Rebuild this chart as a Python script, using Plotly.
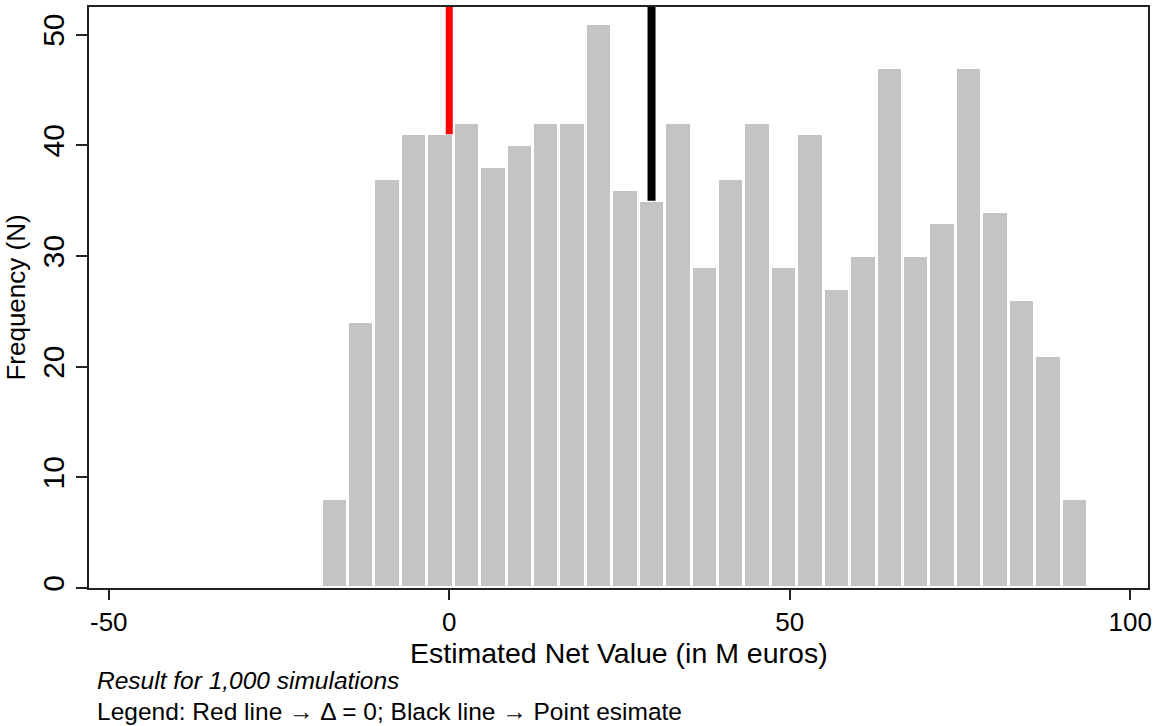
import plotly.graph_objects as go

# Histogram data
bin_start = -18.74
bin_width = 3.88
counts = [8, 24, 37, 41, 41, 42, 38, 40, 42, 42, 51, 36, 35, 42, 29,
          37, 42, 29, 41, 27, 30, 47, 30, 33, 47, 34, 26, 21, 8]

red_line_x = 0
red_line_bottom = 41
black_line_x = 29.7
black_line_bottom = 35

x_ticks = [-50, 0, 50, 100]
y_ticks = [0, 10, 20, 30, 40, 50]
x_range = [-52.9, 102.6]
y_range = [0, 52.5]

x_title = "Estimated Net Value (in M euros)"
y_title = "Frequency (N)"
note_1 = "<i>Result for 1,000 simulations</i>"
note_2 = "Legend: Red line \u2192 \u0394 = 0; Black line \u2192 Point esimate"

centers = [bin_start + bin_width * (i + 0.5) for i in range(len(counts))]

FONT = "Arial, Liberation Sans, Helvetica, sans-serif"

fig = go.Figure()
fig.add_trace(go.Bar(
    x=centers, y=counts, width=[bin_width] * len(counts),
    marker=dict(color="#c4c4c4", line=dict(color="white", width=3)),
    showlegend=False, hoverinfo="x+y",
))
fig.add_trace(go.Scatter(
    x=[red_line_x, red_line_x], y=[red_line_bottom, y_range[1] + 5],
    mode="lines", line=dict(color="#ff0000", width=7), showlegend=False,
))
fig.add_trace(go.Scatter(
    x=[black_line_x, black_line_x], y=[black_line_bottom, y_range[1] + 5],
    mode="lines", line=dict(color="#000000", width=8), showlegend=False,
))

fig.update_layout(
    width=1158, height=726,
    margin=dict(l=89, r=10, t=5, b=138),
    plot_bgcolor="white", paper_bgcolor="white",
    font=dict(family=FONT, color="#000000"),
    bargap=0,
    xaxis=dict(
        range=x_range, tickvals=x_ticks, ticktext=[str(v) for v in x_ticks],
        showgrid=False, zeroline=False, showline=True, mirror=True,
        linecolor="#222222", linewidth=2,
        ticks="outside", ticklen=10, tickwidth=2, tickcolor="#222222",
        tickfont=dict(size=26, family=FONT),
    ),
    yaxis=dict(
        range=y_range, tickvals=y_ticks, ticktext=[str(v) for v in y_ticks],
        showgrid=False, zeroline=False, showline=True, mirror=True,
        linecolor="#222222", linewidth=2,
        ticks="outside", ticklen=11, tickwidth=2, tickcolor="#222222",
        tickangle=-90,
        tickfont=dict(size=30, family=FONT),
        title=dict(text=y_title, font=dict(size=26, family=FONT), standoff=4),
    ),
    annotations=[
        dict(text=x_title, xref="paper", yref="paper",
             x=0.5, y=-0.112, xanchor="center", yanchor="middle",
             showarrow=False, font=dict(size=28.5, family=FONT)),
        dict(text=note_1, xref="paper", yref="paper",
             x=0.0057, y=-0.159, xanchor="left", yanchor="middle",
             showarrow=False, font=dict(size=24.5, family=FONT)),
        dict(text=note_2, xref="paper", yref="paper",
             x=0.0057, y=-0.213, xanchor="left", yanchor="middle",
             showarrow=False, font=dict(size=24.5, family=FONT)),
    ],
)

fig.write_html(
    "out.html",
    config={"displayModeBar": False},
    post_script="document.body.style.margin='0px';document.body.style.overflow='hidden';",
)
